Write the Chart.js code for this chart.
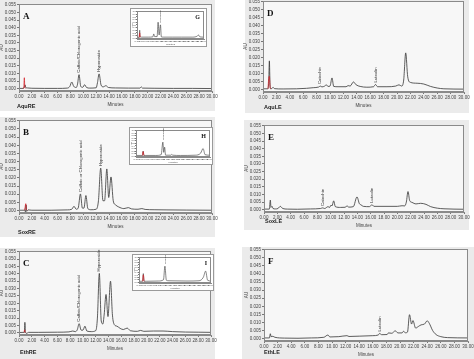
<!DOCTYPE html>
<html>
<head>
<meta charset="utf-8">
<script src="https://cdn.jsdelivr.net/npm/chart.js@4"></script>
<style>
  body { margin: 0; width: 474px; height: 359px; background: #fff; position: relative; overflow: hidden; font-family: "Liberation Sans", Arial, sans-serif; }
  .panel { position: absolute; background: #ebebeb; }
  canvas { position: absolute; }
  .inset { background: #fff; outline: 1px solid #9a9a9a; }
</style>
</head>
<body>
<script>
// ---- data (minutes / AU) ----
const xTicks = [0, 2, 4, 6, 8, 10, 12, 14, 16, 18, 20, 22, 24, 26, 28, 30]
const yTicks = [0, 0.005, 0.010, 0.015, 0.020, 0.025, 0.030, 0.035, 0.040, 0.045, 0.050, 0.055]
const insetTicks = [0, 0.1, 0.2, 0.3, 0.4, 0.5, 0.6, 0.7, 0.8, 0.9, 1]

// A - AquRE
const aquRE_t = [0, 0.7, 0.85, 0.95, 1.05, 1.3, 2, 4, 6, 7.5, 7.9, 8.2, 8.5, 8.9, 9.1, 9.33, 9.6, 9.9, 10.2, 10.5, 11, 12.0, 12.2, 12.45, 12.75, 13.1, 13.5, 13.9, 15, 17, 18.8, 19.0, 19.2, 21, 24, 27, 30]
const aquRE_au = [0.0002, 0.0002, 0.0015, 0.0025, 0.0008, 0.0005, 0.0003, 0.0002, 0.0002, 0.0004, 0.0015, 0.0044, 0.0016, 0.0008, 0.003, 0.0092, 0.0015, 0.0009, 0.0026, 0.0008, 0.0004, 0.0006, 0.004, 0.0097, 0.0025, 0.0012, 0.002, 0.0008, 0.0005, 0.0004, 0.0004, 0.0012, 0.0004, 0.0003, 0.0002, 0.0002, 0.0001]
const aquRE_red_t = [0.6, 0.75, 0.83, 0.9, 1.0]
const aquRE_red_au = [0.0002, 0.001, 0.0072, 0.001, 0.0002]
const aquRE_tags = [[9.33, 0.0092, 'Caffeic/Chlorogenic acid'], [12.45, 0.0097, 'Hyperoside']]

// B - SoxRE
const soxRE_t = [0, 0.9, 1.0, 1.1, 1.2, 1.4, 2, 5, 7.5, 8.2, 8.55, 8.9, 9.2, 9.55, 9.85, 10.1, 10.4, 10.7, 11.2, 12.0, 12.35, 12.7, 13.05, 13.3, 13.65, 13.95, 14.3, 14.65, 15.0, 15.5, 16.3, 17.0, 17.5, 18.5, 19.1, 19.6, 21, 23, 26, 30]
const soxRE_au = [0.0002, 0.0002, -0.0008, 0.0035, -0.0005, 0.0004, 0.0002, 0.0002, 0.0004, 0.0008, 0.0026, 0.0008, 0.0015, 0.0102, 0.0015, 0.0015, 0.0092, 0.0012, 0.0005, 0.0008, 0.006, 0.026, 0.006, 0.006, 0.0255, 0.008, 0.0206, 0.006, 0.0035, 0.0022, 0.0012, 0.0018, 0.001, 0.0008, 0.0012, 0.0007, 0.0005, 0.0004, 0.0003, 0.0002]
const soxRE_red_t = [0.85, 0.95, 1.05, 1.15, 1.25]
const soxRE_red_au = [0.0002, 0.002, 0.0042, 0.001, 0.0002]
const soxRE_tags = [[9.55, 0.0102, 'Caffeic or Chlorogenic acid'], [12.7, 0.026, 'Hyperoside']]

// C - EthRE
const ethRE_t = [0, 0.85, 0.92, 1.0, 1.2, 1.5, 3, 6, 7.8, 8.4, 8.8, 9.1, 9.4, 9.7, 10.0, 10.3, 10.6, 11.3, 12.0, 12.25, 12.55, 12.85, 13.1, 13.3, 13.6, 13.9, 14.3, 14.6, 14.9, 15.3, 15.8, 16.3, 16.9, 17.4, 18.5, 19.0, 19.5, 21, 22.5, 24, 26, 28, 30]
const ethRE_au = [0.0002, 0.0003, 0.0071, 0.0005, -0.0004, 0.0003, 0.0003, 0.0004, 0.0006, 0.0012, 0.0008, 0.002, 0.0062, 0.0018, 0.0018, 0.0045, 0.0012, 0.0008, 0.0015, 0.01, 0.0403, 0.008, 0.006, 0.012, 0.026, 0.011, 0.035, 0.012, 0.0055, 0.0045, 0.003, 0.0022, 0.0032, 0.0014, 0.001, 0.0016, 0.001, 0.0012, 0.0012, 0.0008, 0.0005, 0.0004, 0.0003]
const ethRE_red_t = [0.8, 0.88, 0.95, 1.05]
const ethRE_red_au = [0.0002, 0.002, 0.0008, 0.0002]
const ethRE_tags = [[9.4, 0.0062, 'Caffeic/Chlorogenic acid'], [12.55, 0.0403, 'Hyperoside']]

// D - AquLE
const aquLE_t = [0, 0.7, 0.85, 0.95, 1.05, 1.15, 1.35, 1.5, 1.7, 3, 5, 6.5, 7.5, 8.3, 8.55, 8.8, 9.2, 9.45, 9.7, 10.0, 10.3, 10.55, 11.2, 12.4, 12.7, 13.0, 13.5, 13.9, 14.5, 15.5, 16.5, 16.8, 17.1, 18.5, 19.8, 20.3, 20.7, 21.0, 21.3, 21.6, 22.0, 23.0, 24.0, 25.0, 26.0, 27, 30]
const aquLE_au = [0.0005, 0.0005, 0.004, 0.018, 0.003, 0.0005, 0.0008, 0.0015, 0.0006, 0.0004, 0.0005, 0.0008, 0.0012, 0.0016, 0.0022, 0.0017, 0.0022, 0.003, 0.002, 0.0022, 0.0073, 0.002, 0.0018, 0.0018, 0.0025, 0.0022, 0.0048, 0.003, 0.002, 0.0015, 0.0018, 0.0032, 0.0018, 0.0018, 0.0022, 0.003, 0.0022, 0.006, 0.023, 0.008, 0.0045, 0.004, 0.0035, 0.002, 0.001, 0.0005, 0.0003]
const aquLE_red_t = [0.75, 0.88, 0.95, 1.05, 1.15]
const aquLE_red_au = [0.0005, 0.008, 0.0083, 0.002, 0.0005]
const aquLE_tags = [[8.55, 0.0022, 'Catechin'], [16.8, 0.0032, 'Luteolin']]

// E - SoxLE
const soxLE_t = [0, 0.8, 0.95, 1.05, 1.2, 1.35, 1.7, 2.1, 2.45, 2.8, 3.5, 5, 7, 8.5, 8.8, 9.1, 9.6, 9.85, 10.05, 10.2, 10.45, 10.7, 11.5, 12.2, 12.45, 12.7, 13.4, 13.95, 14.3, 14.55, 14.9, 15.8, 16.2, 16.5, 18, 20, 20.7, 21.1, 21.35, 21.6, 21.85, 22.2, 22.8, 23.5, 24.3, 25.0, 26, 27, 30]
const soxLE_au = [0.0004, 0.0004, 0.0063, 0.0015, 0.0022, 0.0008, 0.0005, 0.0008, 0.0022, 0.0008, 0.0004, 0.0003, 0.0005, 0.0008, 0.0012, 0.0008, 0.002, 0.0015, 0.003, 0.0025, 0.0058, 0.002, 0.0015, 0.0016, 0.0026, 0.0017, 0.002, 0.0084, 0.004, 0.0032, 0.0022, 0.002, 0.0032, 0.0022, 0.0022, 0.0022, 0.0026, 0.0025, 0.005, 0.0119, 0.006, 0.0048, 0.0038, 0.0042, 0.0035, 0.002, 0.001, 0.0006, 0.0003]
const soxLE_tags = [[8.8, 0.0012, 'Catechin'], [16.2, 0.0032, 'Luteolin']]

// F - EthLE
const ethLE_t = [0, 0.8, 0.93, 1.05, 1.3, 1.6, 3, 5, 7, 8.8, 9.4, 9.7, 11, 12.2, 12.5, 14, 16, 16.8, 17.0, 17.3, 18.1, 18.3, 18.8, 19.3, 19.7, 20.3, 20.5, 20.8, 21.1, 21.4, 21.7, 21.9, 22.3, 22.7, 23.1, 23.6, 24.0, 24.3, 24.8, 25.3, 26, 27, 30]
const ethLE_au = [0.0004, 0.0004, 0.003, 0.0012, 0.0014, 0.0008, 0.0003, 0.0002, 0.0004, 0.0008, 0.0022, 0.001, 0.0012, 0.0018, 0.0013, 0.0015, 0.0018, 0.0022, 0.0032, 0.0024, 0.0025, 0.0035, 0.0033, 0.0048, 0.0035, 0.0035, 0.0045, 0.0036, 0.004, 0.0148, 0.009, 0.0112, 0.0065, 0.0075, 0.0085, 0.009, 0.011, 0.0095, 0.005, 0.0025, 0.0012, 0.0006, 0.0004]
const ethLE_tags = [[17.0, 0.0032, 'Luteolin']]

// insets G, H, I (relative response)
const insG_t = [0, 1.0, 1.2, 1.4, 2, 5, 7.1, 7.5, 7.9, 9.0, 9.45, 9.9, 10.5, 10.9, 12, 16, 20, 25, 27.0, 27.5, 28.2, 30]
const insG_au = [0.03, 0.03, 0.3, 0.06, 0.04, 0.04, 0.05, 0.16, 0.06, 0.06, 0.6, 0.12, 0.5, 0.05, 0.04, 0.04, 0.04, 0.04, 0.08, 0.12, 0.05, 0.04]
const insG_red_t = [1.0, 1.2, 1.4]
const insG_red_au = [0.03, 0.2, 0.04]
const insH_t = [0, 2.6, 2.9, 3.2, 4, 8, 10.2, 10.9, 11.25, 11.6, 12, 14.1, 14.5, 14.9, 18, 24, 26.2, 27.2, 28.0, 30]
const insH_au = [0.03, 0.03, 0.2, 0.03, 0.03, 0.03, 0.06, 0.55, 0.15, 0.35, 0.04, 0.04, 0.07, 0.04, 0.03, 0.04, 0.12, 0.3, 0.06, 0.04]
const insH_red_t = [2.6, 2.9, 3.2]
const insH_red_au = [0.03, 0.18, 0.03]
const insI_t = [0, 1.5, 1.8, 2.1, 3, 8, 10.2, 10.8, 11.4, 12.5, 20, 25, 26.8, 27.75, 28.6, 30]
const insI_au = [0.04, 0.04, 0.35, 0.04, 0.04, 0.05, 0.1, 0.65, 0.08, 0.06, 0.05, 0.06, 0.2, 0.45, 0.08, 0.05]
const insI_red_t = [1.5, 1.8, 2.1]
const insI_red_au = [0.04, 0.3, 0.04]

const pts = (ts, vs) => ts.map((t, i) => ({x: t, y: vs[i]}))

// ---- drawing helpers ----
const frame_plugin = {
    id: 'frame',
    beforeDatasetsDraw(chart, args, opts) {
        const {ctx, chartArea: a} = chart
        ctx.save()
        ctx.fillStyle = opts.bg
        ctx.fillRect(a.left, a.top, a.right - a.left, a.bottom - a.top)
        ctx.restore()
    },
    afterDraw(chart, args, opts) {
        const {ctx, chartArea: a, scales} = chart
        ctx.save()
        ctx.strokeStyle = '#8a8a8a'
        ctx.lineWidth = 1
        ctx.strokeRect(a.left + 0.5, a.top + 0.5, a.right - a.left - 1, a.bottom - a.top - 1)
        ctx.fillStyle = '#111'
        ctx.font = 'bold ' + opts.letterSize + 'px "Liberation Serif", "DejaVu Serif", serif'
        ctx.textBaseline = 'top'
        if (opts.letterRight) {
            ctx.textAlign = 'right'
            ctx.fillText(opts.letter, a.right - 4, a.top + 3)
        } else {
            ctx.textAlign = 'left'
            ctx.fillText(opts.letter, a.left + 4, a.top + 8)
        }
        if (opts.name) {
            ctx.font = 'bold 5.5px "Liberation Sans", Arial, sans-serif'
            ctx.fillStyle = '#222'
            ctx.textBaseline = 'middle'
            ctx.fillText(opts.name, opts.nameX, opts.nameY)
        }
        ctx.font = opts.tagSize + 'px "Liberation Sans", Arial, sans-serif'
        ctx.fillStyle = '#333'
        ctx.textAlign = 'left'
        ctx.textBaseline = 'middle'
        for (const [t, v, text] of opts.tags) {
            ctx.save()
            ctx.translate(scales.x.getPixelForValue(t), scales.y.getPixelForValue(v) - 2)
            ctx.rotate(-Math.PI / 2)
            ctx.fillText(text, 0, 0)
            ctx.restore()
        }
        ctx.restore()
    }
}

const make_chart = (cfg) => {
    const canvas = document.createElement('canvas')
    const padL = cfg.inset ? 6 : 20, padT = cfg.inset ? 2 : 4, padR = cfg.inset ? 2 : 7, padB = cfg.inset ? 7 : 16
    const extra = cfg.inset ? 0 : 10
    canvas.width = cfg.r - cfg.l + padL + padR
    canvas.height = cfg.b - cfg.t + padT + padB + extra
    const left = cfg.l - padL, top = cfg.t - padT
    canvas.style.left = left + 'px'
    canvas.style.top = top + 'px'
    if (cfg.inset) canvas.className = 'inset'
    document.body.appendChild(canvas)
    const fs = cfg.inset ? 2.5 : 4.5
    const ticks_y = cfg.inset ? insetTicks : yTicks
    const datasets = []
    if (cfg.red_t) datasets.push({data: pts(cfg.red_t, cfg.red_au), borderColor: '#d3222a', borderWidth: 0.8})
    datasets.push({data: pts(cfg.trace_t, cfg.trace_au), borderColor: '#353535', borderWidth: cfg.inset ? 0.6 : 0.8})
    datasets.forEach((d) => { d.pointRadius = 0; d.cubicInterpolationMode = 'monotone'; d.fill = false })
    return new Chart(canvas, {
        type: 'line',
        data: {datasets: datasets},
        plugins: [frame_plugin],
        options: {
            responsive: false,
            animation: false,
            devicePixelRatio: 1,
            layout: {padding: {left: 0, top: padT, right: padR, bottom: extra}},
            plugins: {
                legend: {display: false},
                tooltip: {enabled: false},
                frame: {
                    bg: cfg.inset ? '#ffffff' : '#f7f7f7', letter: cfg.letter, letterRight: cfg.inset,
                    letterSize: cfg.inset ? 6 : 9, tags: cfg.tags || [], tagSize: cfg.inset ? 2.5 : 4.3,
                    name: cfg.name, nameX: cfg.nameAt ? cfg.nameAt[0] - left : 0, nameY: cfg.nameAt ? cfg.nameAt[1] - top : 0
                }
            },
            scales: {
                x: {
                    type: 'linear', min: 0, max: 30,
                    afterBuildTicks: (s) => { s.ticks = xTicks.map((v) => ({value: v})) },
                    afterFit: (s) => { s.height = padB; s.paddingLeft = 0; s.paddingRight = 0 },
                    ticks: {callback: (v) => v.toFixed(2), font: {size: fs}, color: '#444', maxRotation: 0, autoSkip: false, padding: cfg.inset ? 0 : 1},
                    grid: {display: true, drawOnChartArea: false, drawTicks: true, tickLength: cfg.inset ? 1 : 2, color: '#777'},
                    border: {color: '#8a8a8a'},
                    title: {display: true, text: 'Minutes', font: {size: fs}, color: '#444', padding: 0}
                },
                y: {
                    type: 'linear', min: cfg.inset ? -0.03 : -0.0015, max: cfg.inset ? 1.02 : 0.0555,
                    afterBuildTicks: (s) => { s.ticks = ticks_y.map((v) => ({value: v})) },
                    afterFit: (s) => { s.width = padL; s.paddingTop = 0; s.paddingBottom = 0 },
                    ticks: {callback: (v) => cfg.inset ? v.toFixed(1) : v.toFixed(3), font: {size: fs}, color: '#444', padding: cfg.inset ? 0 : 1, autoSkip: false},
                    grid: {display: true, drawOnChartArea: false, drawTicks: true, tickLength: cfg.inset ? 1 : 2, color: '#777'},
                    border: {color: '#8a8a8a'},
                    title: {display: true, text: 'AU', font: {size: fs}, color: '#444', padding: 0}
                }
            }
        }
    })
}

// ---- layout ----
const panels = [
    {letter: 'A', name: 'AquRE', l: 19, t: 4, r: 212, b: 91, bg: [0, 0, 215, 111], nameAt: [17, 106], trace_t: aquRE_t, trace_au: aquRE_au, red_t: aquRE_red_t, red_au: aquRE_red_au, tags: aquRE_tags},
    {letter: 'B', name: 'SoxRE', l: 19, t: 120, r: 212, b: 213, bg: [0, 117, 215, 237], nameAt: [18, 232], trace_t: soxRE_t, trace_au: soxRE_au, red_t: soxRE_red_t, red_au: soxRE_red_au, tags: soxRE_tags},
    {letter: 'C', name: 'EthRE', l: 19, t: 251, r: 211, b: 335, bg: [0, 248, 215, 359], nameAt: [20, 352], trace_t: ethRE_t, trace_au: ethRE_au, red_t: ethRE_red_t, red_au: ethRE_red_au, tags: ethRE_tags},
    {letter: 'D', name: 'AquLE', l: 263, t: 1, r: 464, b: 92, bg: [245, 0, 469, 113], nameAt: [264, 107], trace_t: aquLE_t, trace_au: aquLE_au, red_t: aquLE_red_t, red_au: aquLE_red_au, tags: aquLE_tags},
    {letter: 'E', name: 'SoxLE', l: 264, t: 125, r: 464, b: 212, bg: [244, 120, 469, 230], nameAt: [265, 221], trace_t: soxLE_t, trace_au: soxLE_au, tags: soxLE_tags},
    {letter: 'F', name: 'EthLE', l: 264, t: 249, r: 468, b: 341, bg: [242, 247, 474, 359], nameAt: [264, 352], trace_t: ethLE_t, trace_au: ethLE_au, tags: ethLE_tags}
]
const insets = [
    {letter: 'G', inset: true, l: 137, t: 11, r: 204, b: 39, trace_t: insG_t, trace_au: insG_au, red_t: insG_red_t, red_au: insG_red_au, tags: [[10.5, 0.5, 'Hyperoside']]},
    {letter: 'H', inset: true, l: 136, t: 130, r: 210, b: 157, trace_t: insH_t, trace_au: insH_au, red_t: insH_red_t, red_au: insH_red_au, tags: [[10.9, 0.55, 'Hyperoside']]},
    {letter: 'I', inset: true, l: 139, t: 257, r: 211, b: 283, trace_t: insI_t, trace_au: insI_au, red_t: insI_red_t, red_au: insI_red_au, tags: [[10.8, 0.65, 'Hyperoside']]}
]

for (const p of panels) {
    const div = document.createElement('div')
    div.className = 'panel'
    div.style.left = p.bg[0] + 'px'; div.style.top = p.bg[1] + 'px'
    div.style.width = (p.bg[2] - p.bg[0]) + 'px'; div.style.height = (p.bg[3] - p.bg[1]) + 'px'
    document.body.appendChild(div)
}
panels.forEach(make_chart)
insets.forEach(make_chart)
</script>
</body>
</html>
